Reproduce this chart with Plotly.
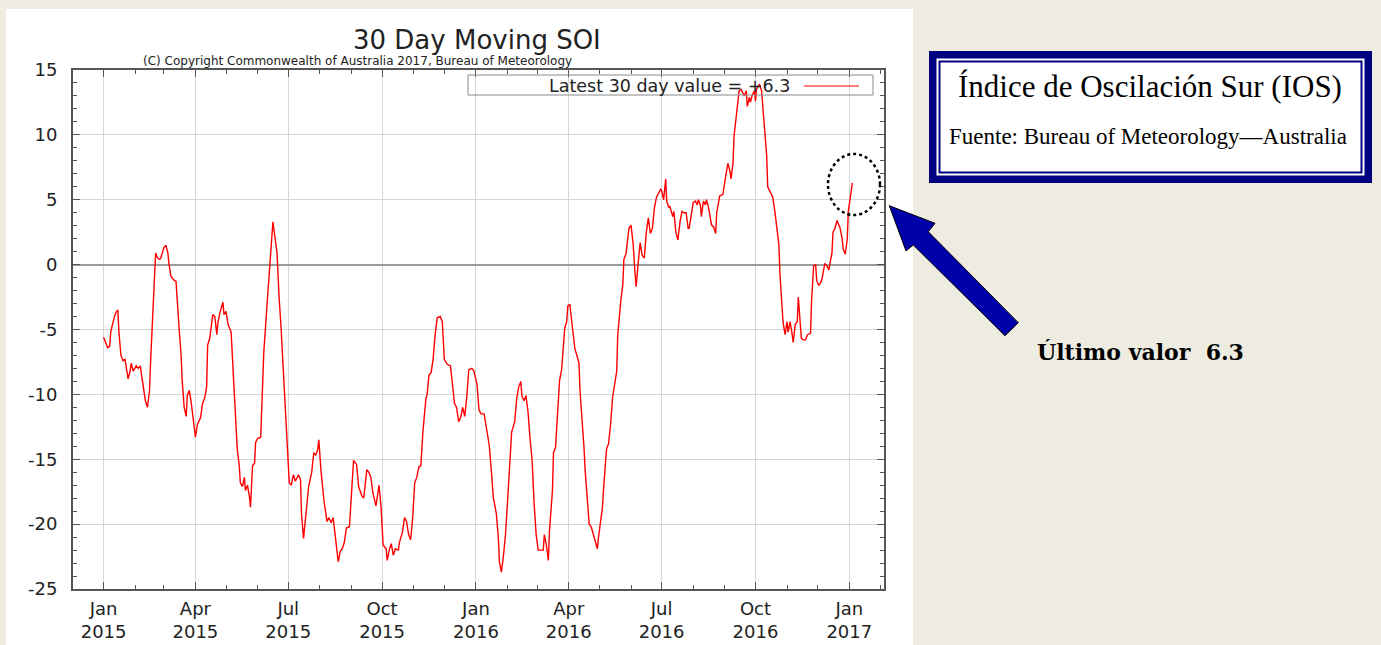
import pandas as pd
import plotly.graph_objects as go

# ---------------- data ----------------
START_DATE = "2015-01-01"
day_offset = [
    0, 2, 4, 6, 7, 10, 12, 14, 15, 17, 19, 21, 23, 24, 26, 27, 29, 32, 34, 36,
    37, 39, 41, 43, 45, 46, 48, 50, 51, 53, 55, 56, 58, 59, 61, 63, 64, 66, 68, 69,
    71, 72, 74, 76, 77, 79, 81, 82, 84, 86, 88, 90, 92, 95, 97, 99, 101, 102, 104, 107,
    109, 111, 112, 114, 117, 118, 120, 122, 125, 126, 128, 130, 131, 133, 134, 136, 138, 139, 141, 143,
    144, 146, 148, 149, 151, 154, 157, 160, 163, 166, 168, 170, 172, 174, 177, 180, 182, 184, 186, 188,
    191, 193, 194, 196, 199, 201, 204, 206, 208, 210, 211, 213, 216, 219, 221, 223, 225, 227, 230, 232,
    234, 236, 238, 241, 243, 245, 248, 250, 253, 255, 258, 260, 262, 264, 267, 268, 270, 272, 274, 277,
    278, 280, 282, 284, 286, 289, 290, 293, 295, 297, 299, 301, 303, 305, 307, 309, 311, 313, 316, 317,
    319, 321, 323, 325, 327, 330, 332, 334, 337, 340, 342, 344, 346, 348, 350, 352, 354, 356, 358, 361,
    363, 366, 368, 370, 373, 375, 378, 380, 382, 385, 387, 388, 390, 392, 394, 396, 398, 400, 403, 405,
    407, 409, 410, 412, 414, 416, 418, 420, 422, 424, 426, 428, 431, 432, 434, 436, 437, 440, 441, 443,
    445, 447, 449, 452, 454, 455, 457, 458, 460, 462, 464, 466, 467, 469, 471, 472, 474, 476, 478, 480,
    482, 484, 485, 487, 489, 490, 492, 493, 495, 497, 499, 501, 503, 504, 506, 507, 509, 510, 512, 515,
    517, 519, 521, 522, 524, 526, 528, 530, 532, 534, 536, 538, 540, 542, 546, 547, 549, 551, 552, 554,
    555, 558, 559, 561, 563, 565, 567, 569, 571, 573, 574, 577, 578, 580, 582, 583, 585, 586, 588, 590,
    591, 593, 595, 596, 598, 600, 601, 603, 604, 607, 608, 610, 612, 614, 615, 617, 618, 620, 622, 623,
    625, 627, 628, 630, 631, 633, 634, 636, 638, 639, 640, 642, 643, 645, 646, 648, 650, 651, 653, 656,
    658, 660, 662, 663, 665, 666, 668, 670, 671, 673, 675, 676, 678, 680, 681, 683, 684, 686, 688, 690,
    693, 694, 696, 698, 699, 701, 702, 704, 706, 707, 709, 711, 712, 714, 715, 717, 719, 720, 722, 724,
    725, 727, 729, 730, 732, 733, 734,
]
soi_30day = [
    -5.6, -6.0, -6.4, -6.3, -5.2, -4.2, -3.7, -3.5, -5.2, -7.0, -7.4, -7.3, -8.2, -8.8, -8.2, -7.6, -8.2, -7.8, -8.0, -7.8,
    -8.4, -9.5, -10.5, -11.0, -9.7, -7.6, -4.1, 0.1, 0.9, 0.5, 0.4, 0.5, 1.1, 1.3, 1.5, 0.9, 0.1, -0.9, -1.1, -1.2,
    -1.3, -2.8, -4.9, -7.0, -8.9, -11.0, -11.7, -10.1, -9.7, -10.7, -11.8, -13.3, -12.3, -11.8, -10.7, -10.3, -9.4, -6.2, -5.7, -3.85,
    -4.0, -5.4, -4.5, -3.7, -2.9, -3.85, -3.6, -4.6, -5.2, -6.8, -8.9, -12.3, -14.2, -15.5, -16.8, -17.1, -16.4, -17.4, -17.0, -17.9,
    -18.7, -15.5, -15.3, -13.7, -13.4, -13.3, -6.8, -3.3, -0.1, 3.3, 2.1, 0.9, -2.5, -4.9, -9.4, -13.4, -16.8, -17.0, -16.2, -16.7,
    -16.2, -16.6, -19.2, -21.1, -18.4, -17.1, -16.0, -14.5, -14.7, -14.2, -13.5, -15.8, -18.2, -19.8, -19.5, -19.9, -19.5, -20.7, -22.9, -22.1,
    -21.9, -21.4, -20.3, -20.2, -17.6, -15.1, -15.4, -17.1, -17.8, -18.0, -15.8, -16.0, -16.4, -17.6, -18.6, -17.9, -17.0, -18.7, -21.6, -21.9,
    -22.8, -22.0, -21.5, -22.4, -21.9, -22.0, -21.4, -20.6, -19.5, -19.8, -20.8, -21.2, -19.5, -16.8, -16.4, -15.6, -15.5, -12.9, -10.3, -10.1,
    -8.5, -8.35, -7.3, -5.4, -4.1, -4.0, -4.4, -7.3, -7.7, -7.8, -9.2, -10.7, -11.0, -12.1, -11.8, -11.0, -11.7, -10.2, -8.1, -8.0,
    -8.2, -9.2, -11.2, -11.5, -11.5, -12.6, -13.9, -15.8, -17.9, -19.2, -21.1, -22.9, -23.7, -22.4, -20.8, -18.2, -15.0, -12.9, -12.1, -10.3,
    -9.4, -9.0, -10.1, -10.5, -10.1, -11.3, -13.4, -15.0, -18.4, -20.8, -22.0, -22.0, -22.0, -20.8, -21.6, -22.8, -20.6, -17.4, -14.5, -14.1,
    -11.5, -8.9, -8.1, -4.9, -4.4, -3.2, -3.05, -3.85, -4.9, -6.5, -7.0, -7.6, -9.7, -11.8, -14.2, -15.8, -18.2, -20.0, -20.2, -20.8,
    -21.4, -21.9, -21.1, -20.0, -18.7, -17.4, -15.0, -14.2, -13.8, -12.3, -10.2, -9.2, -8.2, -5.4, -3.3, -2.8, -1.5, 0.4, 0.8, 2.8,
    3.05, 1.7, -0.7, -1.7, 0.1, 1.7, 0.7, 0.5, 2.5, 3.6, 2.4, 2.8, 4.4, 5.2, 5.8, 5.7, 5.0, 6.6, 4.9, 4.4,
    4.5, 3.7, 4.1, 2.5, 1.9, 3.3, 4.1, 4.0, 4.0, 2.8, 2.8, 4.1, 4.8, 4.9, 4.6, 5.0, 4.6, 3.7, 4.9, 4.6,
    5.0, 4.4, 3.3, 3.05, 2.9, 2.4, 4.0, 4.9, 5.3, 5.4, 6.0, 6.9, 7.8, 7.2, 6.6, 7.8, 9.9, 11.5, 12.9, 13.4,
    13.5, 13.1, 13.0, 13.4, 12.2, 12.9, 12.5, 13.1, 13.4, 12.6, 13.5, 13.8, 13.9, 13.4, 12.3, 10.7, 8.4, 6.0, 5.7, 5.2,
    4.1, 2.8, 1.5, -0.7, -2.8, -4.4, -5.4, -4.4, -5.2, -4.4, -5.4, -6.0, -4.6, -4.4, -2.5, -4.4, -5.7, -5.8, -5.8, -5.4,
    -5.3, -2.8, -0.1, 0.0, -1.2, -1.6, -1.5, -1.2, -0.1, 0.1, -0.1, -0.4, 0.1, 0.9, 2.5, 2.8, 3.4, 3.2, 2.8, 2.0,
    1.2, 0.8, 2.0, 4.1, 5.2, 6.0, 6.3,
]
y_tick_values = [15, 10, 5, 0, -5, -10, -15, -20, -25]
y_tick_labels = ["15", "10", "5", "0", "-5", "-10", "-15", "-20", "-25"]
x_range = ["2014-12-02", "2017-02-04"]
latest_value = 6.3

dates = (pd.Timestamp(START_DATE) + pd.to_timedelta(day_offset, unit="D")).strftime("%Y-%m-%d")

# ---------------- layout geometry ----------------
W, H = 1381, 645
L, R, T, B = 73, 884, 70, 589  # plot area in pixels


def px(x):
    return (x - L) / (R - L)


def py(y):
    return (B - y) / (B - T)


BG = "#EEECE1"
NAVY = "#000080"
TXT = "#222222"

fig = go.Figure()
fig.add_trace(go.Scatter(
    x=dates, y=soi_30day, mode="lines",
    line=dict(color="#FF0000", width=1.4),
    name="Latest 30 day value", showlegend=False, hoverinfo="x+y",
))

axis_common = dict(
    showline=True, linecolor="#555555", linewidth=2, mirror="ticks",
    ticks="inside", tickcolor="#555555", ticklen=7, tickwidth=1,
    showgrid=True, gridcolor="#D6D6D6", gridwidth=1, automargin=False,
    tickfont=dict(family="DejaVu Sans", size=18, color=TXT),
)

fig.update_xaxes(
    type="date", range=x_range, tick0="2015-01-01", dtick="M3",
    tickformat="%b<br>%Y", zeroline=False,
    minor=dict(dtick="M1", tick0="2015-01-01", ticks="inside", ticklen=4,
               tickcolor="#555555", showgrid=False),
    ticklabelstandoff=2,
    **axis_common,
)
fig.update_yaxes(
    range=[-25, 15], tickmode="array", tickvals=y_tick_values, ticktext=y_tick_labels,
    zeroline=True, zerolinecolor="#9A9A9A", zerolinewidth=1.5,
    minor=dict(dtick=1, tick0=0, ticks="inside", ticklen=4, tickcolor="#555555", showgrid=False),
    ticklabelstandoff=10,
    **axis_common,
)

shapes = [
    # white chart panel
    dict(type="rect", xref="paper", yref="paper", x0=px(6), x1=px(913), y0=py(660), y1=py(9),
         fillcolor="white", line=dict(width=0), layer="below"),
    # key box
    dict(type="rect", xref="paper", yref="paper", x0=px(468), x1=px(873), y0=py(95), y1=py(75),
         line=dict(color="#8A8A8A", width=1), fillcolor="rgba(0,0,0,0)"),
    dict(type="line", xref="paper", yref="paper", x0=px(804), x1=px(859), y0=py(86), y1=py(86),
         line=dict(color="#FF0000", width=1.2)),
    # dotted circle around latest value
    dict(type="circle", xref="paper", yref="paper", x0=px(828), x1=px(880), y0=py(215), y1=py(154),
         line=dict(color="black", width=2.5, dash="dot")),
    # info box
    dict(type="rect", xref="paper", yref="paper", x0=px(929), x1=px(1372), y0=py(183), y1=py(51),
         fillcolor=NAVY, line=dict(width=0)),
    dict(type="rect", xref="paper", yref="paper", x0=px(936.5), x1=px(1364.5), y0=py(175.5), y1=py(58.5),
         fillcolor="white", line=dict(width=0)),
    dict(type="rect", xref="paper", yref="paper", x0=px(939.5), x1=px(1361.5), y0=py(172.5), y1=py(61.5),
         fillcolor="rgba(0,0,0,0)", line=dict(color=NAVY, width=2)),
]

arrow_pts = [(889.3, 205.7), (935, 223.3), (928.3, 231.7), (1018.3, 322.7),
             (1005, 335.7), (913.3, 245), (906, 251)]
path = "M " + " L ".join(f"{px(x):.5f},{py(y):.5f}" for x, y in arrow_pts) + " Z"
shapes.append(dict(type="path", xref="paper", yref="paper", path=path,
                   fillcolor="#0000AA", line=dict(color="black", width=1)))

annotations = [
    dict(text="30 Day Moving SOI", x=px(477), y=py(40), xref="paper", yref="paper",
         showarrow=False, xanchor="center", yanchor="middle",
         font=dict(family="DejaVu Sans", size=26, color=TXT)),
    dict(text="(C) Copyright Commonwealth of Australia 2017, Bureau of Meteorology",
         x=px(357), y=py(61), xref="paper", yref="paper", showarrow=False,
         xanchor="center", yanchor="middle",
         font=dict(family="DejaVu Sans", size=12, color=TXT)),
    dict(text=f"Latest 30 day value = +{latest_value}", x=px(792), y=py(86),
         xref="paper", yref="paper", showarrow=False, xanchor="right", yanchor="middle",
         font=dict(family="DejaVu Sans", size=17.5, color=TXT)),
    dict(text="Índice de Oscilación Sur (IOS)", x=px(1150), y=py(87), xref="paper", yref="paper",
         showarrow=False, xanchor="center", yanchor="middle",
         font=dict(family="Liberation Serif", size=31, color="black")),
    dict(text="Fuente: Bureau of Meteorology—Australia", x=px(1148), y=py(136),
         xref="paper", yref="paper", showarrow=False, xanchor="center", yanchor="middle",
         font=dict(family="Liberation Serif", size=23, color="black")),
    dict(text=f"<b>Último valor\u00a0 {latest_value}</b>", x=px(1140), y=py(352),
         xref="paper", yref="paper", showarrow=False, xanchor="center", yanchor="middle",
         font=dict(family="DejaVu Serif", size=22, color="black")),
]

fig.update_layout(
    width=W, height=H,
    margin=dict(l=L, r=W - R, t=T, b=H - B, pad=0, autoexpand=False),
    paper_bgcolor=BG, plot_bgcolor="white",
    shapes=shapes, annotations=annotations, showlegend=False,
)

fig.write_html(
    "out.html",
    config={"displayModeBar": False},
    post_script="document.body.style.margin='0';document.body.style.overflow='hidden';",
)
